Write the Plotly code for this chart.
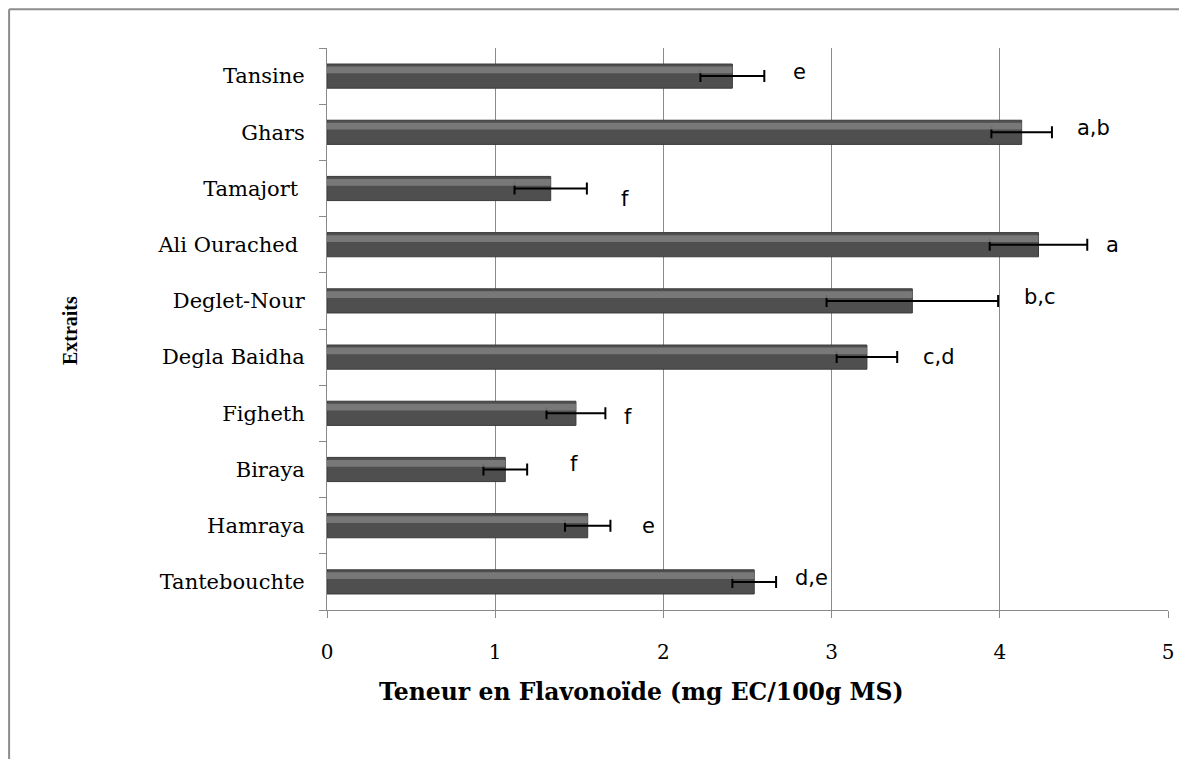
import plotly.graph_objects as go

# Data (top to bottom in the picture)
extraits = ["Tansine", "Ghars", "Tamajort ", "Ali Ourached ", "Deglet-Nour",
            "Degla Baidha", "Figheth", "Biraya", "Hamraya", "Tantebouchte"]
teneur = [2.41, 4.13, 1.33, 4.23, 3.48, 3.21, 1.48, 1.06, 1.55, 2.54]
ecart = [0.19, 0.18, 0.215, 0.29, 0.51, 0.18, 0.175, 0.13, 0.135, 0.13]
lettres = ["e", "a,b", "f", "a", "b,c", "c,d", "f", "f", "e", "d,e"]
lettre_x = [2.81, 4.56, 1.77, 4.67, 4.24, 3.64, 1.79, 1.47, 1.91, 2.88]
lettre_dy = [4, 4, -10, 0, 4, 0, -4, 6, 0, 4]

# plotly draws categories bottom-up
cats = extraits[::-1]
vals = teneur[::-1]
errs = ecart[::-1]

fig = go.Figure()

# main bar
fig.add_trace(go.Bar(
    y=cats, x=vals, orientation="h",
    width=0.43, offset=-0.215,
    marker=dict(color="#4f4f4f", line=dict(color="#3a3a3a", width=1)),
    error_x=dict(type="data", array=errs, color="black", thickness=2, width=6),
    showlegend=False, hoverinfo="x+y",
))
# lighter band on the upper part of each bar (Excel bevel look)
fig.add_trace(go.Bar(
    y=cats, x=vals, orientation="h",
    width=0.12, offset=0.05,
    marker=dict(color="#808080", line=dict(width=0)),
    opacity=0.85, showlegend=False, hoverinfo="skip",
))

annotations = []
for name, txt, lx, dy in zip(extraits, lettres, lettre_x, lettre_dy):
    annotations.append(dict(
        x=lx, y=name, xref="x", yref="y", text=txt, showarrow=False,
        yshift=dy, font=dict(family="DejaVu Sans", size=21, color="black"),
    ))

# axis titles
annotations.append(dict(
    x=0.3734, y=-0.146, xref="paper", yref="paper",
    xanchor="center", yanchor="middle",
    text="<b>Teneur en Flavonoïde (mg EC/100g MS)</b>", showarrow=False,
    font=dict(family="DejaVu Serif", size=23.5, color="black"),
))
annotations.append(dict(
    x=-0.3056, y=0.498, xref="paper", yref="paper", textangle=-90,
    xanchor="center", yanchor="middle",
    text="<b>Extraits</b>", showarrow=False,
    font=dict(family="Liberation Serif", size=20, color="black"),
))

# outer frame (top and left edges only)
frame = [
    dict(type="line", xref="paper", yref="paper", x0=-0.378, x1=1.03,
         y0=1.069, y1=1.069, line=dict(color="#8c8c8c", width=2)),
    dict(type="line", xref="paper", yref="paper", x0=-0.378, x1=-0.378,
         y0=1.069, y1=-0.30, line=dict(color="#8c8c8c", width=2)),
]

fig.update_layout(
    width=1179, height=751,
    margin=dict(l=319, r=19, t=40, b=149),
    paper_bgcolor="white", plot_bgcolor="white",
    barmode="overlay",
    annotations=annotations, shapes=frame,
    font=dict(family="DejaVu Serif", size=20, color="black"),
)
fig.update_xaxes(
    range=[0, 5], dtick=1, showgrid=True, gridcolor="#8a8a8a", gridwidth=1,
    showline=True, linecolor="#8a8a8a", linewidth=1,
    ticks="outside", ticklen=7, tickcolor="#8a8a8a", zeroline=False,
    ticklabelstandoff=17,
    tickfont=dict(family="DejaVu Serif", size=20),
)
fig.update_yaxes(
    categoryorder="array", categoryarray=cats,
    range=[-0.5, 9.5],
    showline=True, linecolor="#8a8a8a", linewidth=1,
    ticks="outside", ticklen=7, tickcolor="#8a8a8a", tickson="boundaries",
    showgrid=False, ticklabelstandoff=17,
    tickfont=dict(family="DejaVu Serif", size=21),
)

fig.write_html("out.html")
